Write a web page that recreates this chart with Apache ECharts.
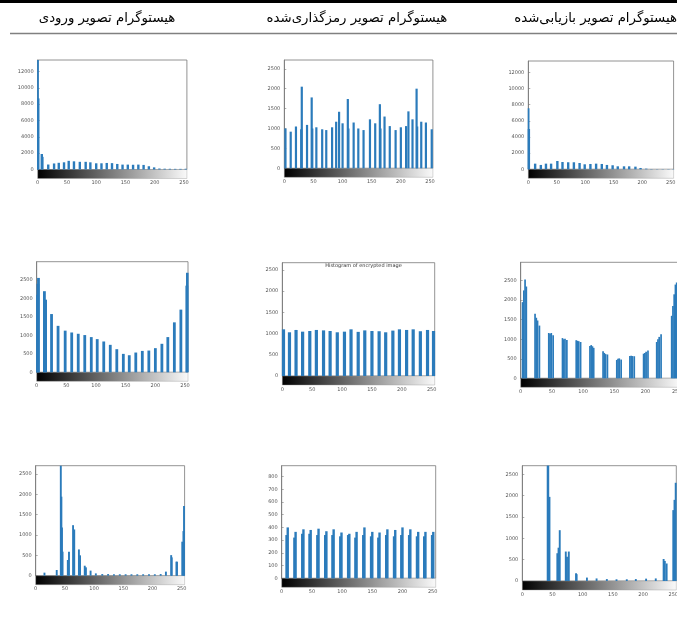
<!DOCTYPE html>
<html>
<head>
<meta charset="utf-8">
<script src="https://cdn.jsdelivr.net/npm/echarts@6/dist/echarts.min.js"></script>
<style>
html,body{margin:0;padding:0;background:#fff;}
#chart{width:677px;height:636px;}
</style>
</head>
<body>
<div id="chart"></div>
<script>
// Column headers (RTL Persian)
const headers = ['هیستوگرام تصویر ورودی', 'هیستوگرام تصویر رمزگذاری‌شده', 'هیستوگرام تصویر بازیابی‌شده'];
const panelTitles = ['', '', '', '', 'Histogram of encrypted image', '', '', '', ''];

// x tick labels (grey levels)
const xTicks = [0, 50, 100, 150, 200, 250];

// Row 1 histograms [grey level, count]
const inputHist1 = [[0,13400],[1,8700],[7,1900],[8,1550],[18,610],[28,740],[36,820],[45,880],[53,1060],[62,1000],[72,940],[82,940],[90,880],[100,760],[109,760],[118,800],[127,780],[136,680],[145,600],[154,600],[163,580],[172,600],[181,560],[190,400],[199,260],[208,120],[217,100],[226,90],[235,80],[244,80],[253,90]];
const encHist1 = [[2,1000],[11,920],[20,1050],[29,980],[30,2050],[39,1090],[47,1780],[48,1000],[55,1030],[65,980],[72,960],[82,1030],[89,1170],[94,1420],[100,1130],[109,1740],[110,1000],[119,1150],[127,1000],[136,960],[147,1230],[156,1130],[164,1610],[165,1000],[172,1300],[181,1060],[191,960],[200,1030],[209,1060],[213,1430],[220,1230],[227,2000],[228,1050],[235,1170],[243,1150],[253,980]];
const decHist1 = [[0,7550],[1,4990],[12,700],[22,540],[31,700],[40,700],[51,1030],[60,900],[70,870],[80,870],[90,780],[99,620],[109,660],[119,700],[129,660],[138,540],[148,500],[157,370],[168,370],[177,370],[188,330],[197,165],[207,80],[216,40],[226,30],[236,30],[246,30],[255,40]];

// Row 2 histograms
const inputHist2 = [[0,2100],[2,2400],[3,2560],[13,2200],[15,1970],[25,1580],[36,1260],[48,1130],[59,1080],[70,1045],[81,1010],[92,955],[102,900],[113,836],[124,745],[135,627],[146,500],[156,463],[167,536],[178,580],[189,590],[200,655],[211,773],[221,955],[232,1355],[243,1700],[253,2350],[254,2700]];
const encHist2 = [[2,1100],[12,1030],[23,1085],[34,1045],[46,1060],[57,1085],[69,1075],[80,1060],[92,1030],[104,1045],[115,1100],[127,1040],[138,1075],[150,1060],[162,1055],[173,1030],[185,1070],[196,1100],[208,1085],[219,1100],[231,1055],[243,1085],[253,1060]];
const decHist2 = [[3,1950],[5,2250],[7,2530],[9,2350],[23,1650],[25,1550],[27,1480],[30,1350],[45,1160],[47,1140],[49,1160],[52,1100],[67,1030],[69,1000],[71,1010],[74,980],[89,975],[91,960],[93,950],[96,930],[111,830],[113,850],[115,820],[117,780],[132,690],[134,650],[136,620],[139,610],[154,470],[156,500],[158,510],[161,480],[175,570],[177,580],[179,570],[182,565],[197,630],[199,650],[201,680],[204,710],[218,930],[220,1000],[222,1060],[225,1130],[242,1600],[244,1850],[246,2150],[248,2400],[250,2450]];

// Row 3 histograms
const inputHist3 = [[15,75],[36,140],[43,2700],[44,1940],[45,1185],[46,590],[55,385],[57,590],[64,1240],[66,1135],[74,645],[76,500],[84,245],[86,205],[94,125],[103,57],[114,40],[124,40],[134,35],[144,35],[154,35],[164,35],[174,35],[184,35],[194,35],[204,35],[214,40],[223,100],[232,505],[233,450],[241,345],[242,345],[251,835],[253,1095],[254,1710]];
const encHist3 = [[8,340],[10,400],[21,320],[23,365],[34,350],[36,385],[46,350],[48,380],[59,340],[61,390],[72,340],[74,370],[84,340],[86,385],[97,330],[99,360],[110,340],[112,350],[122,320],[124,365],[135,340],[137,400],[148,330],[150,365],[160,320],[162,360],[173,340],[175,385],[186,330],[188,380],[198,340],[200,400],[211,340],[213,385],[224,330],[226,365],[236,330],[238,365],[249,340],[251,365]];
const decHist3 = [[42,2700],[43,2700],[45,1970],[58,650],[60,780],[62,1190],[72,690],[74,570],[77,690],[89,180],[90,160],[107,80],[123,60],[140,45],[156,40],[173,40],[188,45],[205,55],[221,60],[234,515],[236,470],[239,410],[250,1660],[252,1900],[254,2300]];

const histograms = [inputHist1, encHist1, decHist1, inputHist2, encHist2, decHist2, inputHist3, encHist3, decHist3];
const yMaxes = [13400, 2720, 13400, 3000, 2670, 2970, 2700, 885, 2700];
const ySteps = [2000, 500, 2000, 500, 500, 500, 500, 100, 500];

// layout (pixels) of each panel's plot box
const layout = [
  {left:37.7, top:60, width:149.2, height:109.5, bw:2.4},
  {left:284.3, top:60, width:148.6, height:108.3, bw:2.2},
  {left:528.3, top:61, width:145.3, height:108.3, bw:2.4},
  {left:36.7, top:261.7, width:151.3, height:110.6, bw:2.8},
  {left:282.3, top:262.7, width:152.4, height:113.3, bw:3.2},
  {left:520.7, top:262.3, width:159.1, height:116, bw:1.7},
  {left:35.7, top:465.7, width:148.9, height:110, bw:1.9},
  {left:281.7, top:465.7, width:154, height:112.6, bw:2.4},
  {left:522.3, top:465.7, width:154, height:115.3, bw:1.9}
];
const headerPos = [{x:107, align:'center'}, {x:357, align:'center'}, {x:677, align:'right'}];

const chart = echarts.init(document.getElementById('chart'), null, {renderer:'canvas'});
const axisFont = {fontSize:5, color:'#555', fontFamily:'DejaVu Sans'};
const barColor = '#2b7bbb';

const grid = [], xAxis = [], yAxis = [], series = [], title = [];
layout.forEach((g, i) => {
  grid.push({left:g.left, top:g.top, width:g.width, height:g.height, show:true, borderColor:'#777', borderWidth:0.8, backgroundColor:'#fff', containLabel:false, outerBoundsMode:'none'});
  xAxis.push({type:'value', gridIndex:i, min:0, max:255, interval:50,
    axisLine:{show:false}, axisTick:{show:false}, splitLine:{show:false},
    axisLabel:Object.assign({margin:11, customValues:xTicks}, axisFont)});
  yAxis.push({type:'value', gridIndex:i, min:0, max:yMaxes[i], interval:ySteps[i],
    axisLine:{show:true, lineStyle:{color:'#777', width:0.8}},
    axisTick:{show:true, inside:true, length:2, lineStyle:{color:'#777', width:0.6}},
    splitLine:{show:false},
    axisLabel:Object.assign({margin:4, showMaxLabel:false, formatter:(v) => String(v)}, axisFont)});
  series.push({type:'bar', xAxisIndex:i, yAxisIndex:i, data:histograms[i], barWidth:g.bw,
    itemStyle:{color:barColor}, silent:true, animation:false, clip:true});
  series.push({type:'custom', xAxisIndex:i, yAxisIndex:i, data:[[0,255]], silent:true, animation:false, clip:false,
    renderItem:(params, api) => {
      const p0 = api.coord([api.value(0), 0]);
      const p1 = api.coord([api.value(1), 0]);
      return {type:'rect', shape:{x:p0[0], y:p0[1], width:p1[0]-p0[0], height:9},
        style:{fill:new echarts.graphic.LinearGradient(0,0,1,0,[{offset:0,color:'#000'},{offset:1,color:'#fafafa'}]), stroke:'#999', lineWidth:0.4}};
    }});
  if (panelTitles[i]) {
    title.push({text:panelTitles[i], left:g.left + g.width/2, top:g.top - 4, textAlign:'center',
      textStyle:{fontSize:5, fontWeight:'normal', color:'#333', fontFamily:'DejaVu Sans'}});
  }
});

const graphic = [
  {type:'rect', shape:{x:0, y:0, width:677, height:3}, style:{fill:'#000'}, silent:true},
  {type:'line', shape:{x1:10, y1:33.5, x2:677, y2:33.5}, style:{stroke:'#808080', lineWidth:1.5}, silent:true}
];
headers.forEach((h, i) => {
  graphic.push({type:'text', x:headerPos[i].x, y:19, silent:true,
    style:{text:h, fontSize:13.3, fontFamily:'DejaVu Sans', fill:'#000', textAlign:headerPos[i].align, textVerticalAlign:'middle'}});
});

chart.setOption({animation:false, backgroundColor:'#fff', title, grid, xAxis, yAxis, series, graphic});
</script>
</body>
</html>
